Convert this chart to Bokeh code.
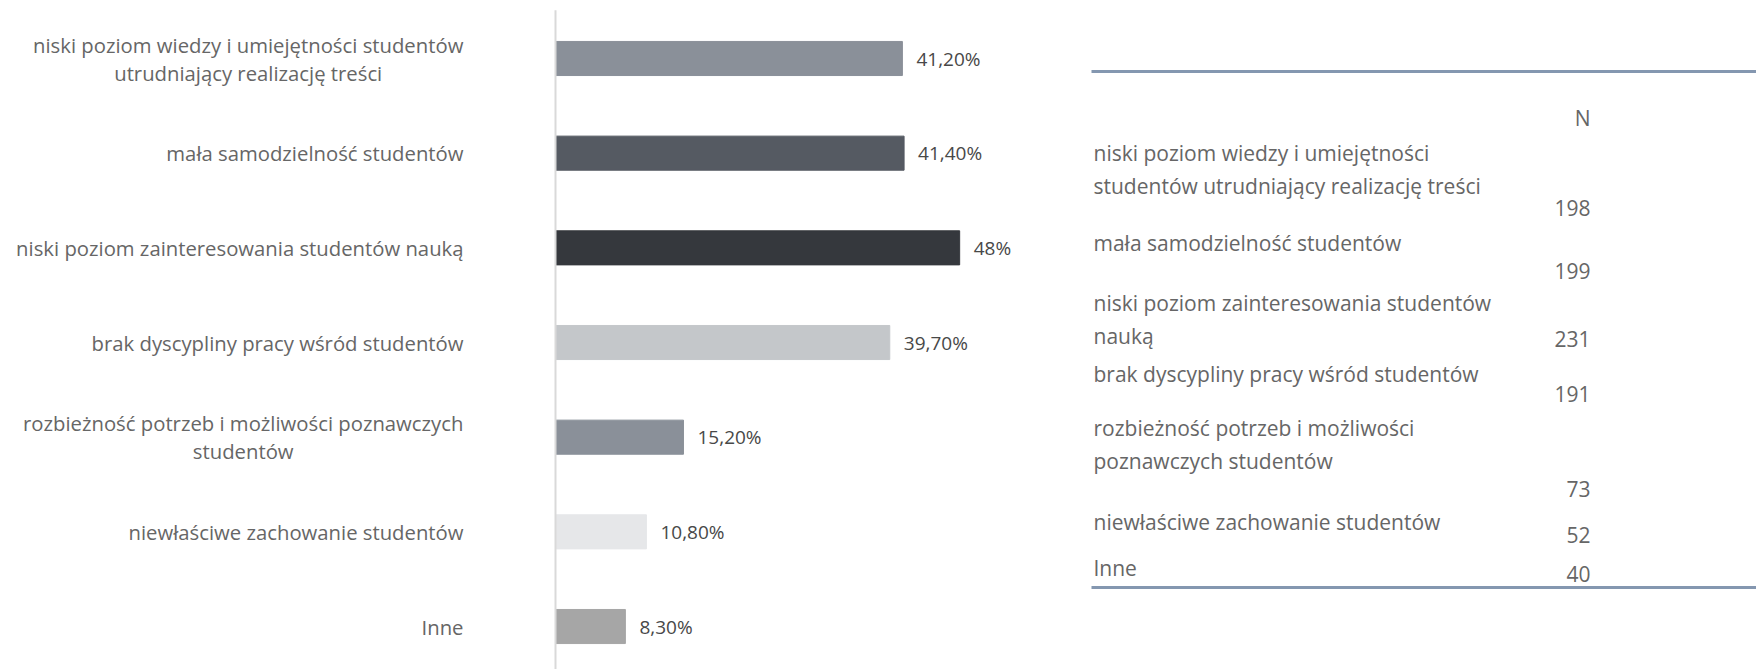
from bokeh.plotting import figure
from bokeh.models import Range1d, ColumnDataSource
from bokeh.core.properties import value
from bokeh.embed import file_html
from bokeh.resources import INLINE

# ---------------- data ----------------
categories = [
    ["niski poziom wiedzy i umiejętności studentów", "utrudniający realizację treści"],
    ["mała samodzielność studentów"],
    ["niski poziom zainteresowania studentów nauką"],
    ["brak dyscypliny pracy wśród studentów"],
    ["rozbieżność potrzeb i możliwości poznawczych", "studentów"],
    ["niewłaściwe zachowanie studentów"],
    ["Inne"],
]
percent = [41.2, 41.4, 48.0, 39.7, 15.2, 10.8, 8.3]
percent_labels = ["41,20%", "41,40%", "48%", "39,70%", "15,20%", "10,80%", "8,30%"]
bar_colors = ["#8a9099", "#555a62", "#35383d", "#c4c7ca", "#8a9099", "#e6e7e9", "#a6a6a6"]

table_header = "N"
table_rows = [
    ["niski poziom wiedzy i umiejętności", "studentów utrudniający realizację treści"],
    ["mała samodzielność studentów"],
    ["niski poziom zainteresowania studentów", "nauką"],
    ["brak dyscypliny pracy wśród studentów"],
    ["rozbieżność potrzeb i możliwości", "poznawczych studentów"],
    ["niewłaściwe zachowanie studentów"],
    ["Inne"],
]
table_n = [198, 199, 231, 191, 73, 52, 40]

# ---------------- layout ----------------
W, H = 1756, 669
FONT = "Open Sans"
TEXT_COLOR = "#666666"
LABEL_SIZE = 20.3
VALUE_SIZE = 19
TABLE_SIZE = 21

# table layout (pixel rows, y downward)
table_label_y = [152, 242, 302, 373, 427, 521, 567]
table_line_h = 33
table_num_y = [207, 270, 338, 393, 488, 534, 573]
table_left_x = 1093
table_right_x = 1590
table_top_line = 71
table_bottom_line = 587
table_header_y = 117


def measure(text, size):
    try:
        import subprocess
        from PIL import ImageFont
        path = subprocess.run(["fc-match", "-f", "%{file}", FONT],
                              capture_output=True, text=True).stdout.strip()
        f = ImageFont.truetype(path, size)
        return f.getlength(text)
    except Exception:
        return 0.5 * size * len(text)


p = figure(width=W, height=H, output_backend="svg", toolbar_location=None,
           x_range=Range1d(0, W), y_range=Range1d(H, 0),
           min_border=0, outline_line_color=None)
p.axis.visible = False
p.grid.visible = False
p.background_fill_color = "white"

# bar coordinate system: percent on x, category index on y
bar_x0_px, px_per_pct = 555, 8.42
first_px, step_px = 58, 94.67
p.extra_x_ranges = {"pct": Range1d(-bar_x0_px / px_per_pct, (W - bar_x0_px) / px_per_pct)}
p.extra_y_ranges = {"idx": Range1d((H - first_px) / step_px, -first_px / step_px)}

idx = list(range(len(percent)))
src = ColumnDataSource(dict(y=idx, right=percent, color=bar_colors, lab=percent_labels))

p.hbar(y="y", left=0, right="right", height=0.36, color="color", source=src,
       x_range_name="pct", y_range_name="idx")

# vertical axis line
p.segment(x0=[0], x1=[0], y0=[-0.51], y1=[6.5], line_color="#d9d9d9", line_width=2,
          x_range_name="pct", y_range_name="idx")

# value labels
p.text(x="right", y="y", text="lab", source=src, x_offset=14,
       text_font=value(FONT), text_font_size=f"{VALUE_SIZE}px", text_color="#484848",
       text_baseline="middle", text_align="left",
       x_range_name="pct", y_range_name="idx")

# category labels (right aligned block, lines centred)
label_right = -92 / px_per_pct
lx, ly, lt, la = [], [], [], []
line_step = 28 / step_px
for i, lines in enumerate(categories):
    n = len(lines)
    if n == 1:
        lx.append(label_right); ly.append(i); lt.append(lines[0]); la.append("right")
    else:
        w0 = measure(lines[0], LABEL_SIZE)
        centre = label_right - (w0 / 2) / px_per_pct
        for k, t in enumerate(lines):
            lx.append(centre)
            ly.append(i + (k - (n - 1) / 2) * line_step)
            lt.append(t)
            la.append("center")
p.text(x=lx, y=ly, text=lt, text_align=la, text_baseline="middle",
       text_font=value(FONT), text_font_size=f"{LABEL_SIZE}px", text_color=TEXT_COLOR,
       x_range_name="pct", y_range_name="idx")

# ---------------- table ----------------
p.segment(x0=[table_left_x - 2, table_left_x - 2], x1=[W, W],
          y0=[table_top_line, table_bottom_line], y1=[table_top_line, table_bottom_line],
          line_color="#8497b0", line_width=3)

p.text(x=[table_right_x], y=[table_header_y], text=[table_header], text_align="right",
       text_baseline="middle", text_font=value(FONT), text_font_size=f"{TABLE_SIZE}px",
       text_color=TEXT_COLOR)

tx, ty, tt = [], [], []
for i, lines in enumerate(table_rows):
    for k, t in enumerate(lines):
        tx.append(table_left_x)
        ty.append(table_label_y[i] + k * table_line_h)
        tt.append(t)
p.text(x=tx, y=ty, text=tt, text_align="left", text_baseline="middle",
       text_font=value(FONT), text_font_size=f"{TABLE_SIZE}px", text_color=TEXT_COLOR)

p.text(x=[table_right_x] * len(table_n), y=table_num_y, text=[str(v) for v in table_n],
       text_align="right", text_baseline="middle",
       text_font=value(FONT), text_font_size=f"{TABLE_SIZE}px", text_color=TEXT_COLOR)

open("out.html", "w").write(file_html(p, INLINE))
